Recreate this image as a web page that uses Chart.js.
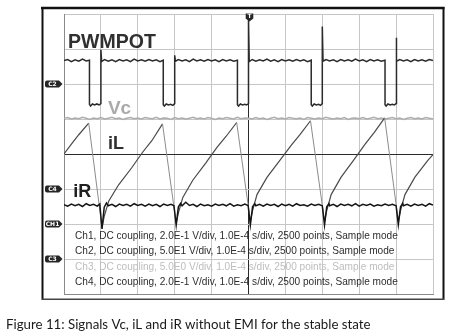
<!DOCTYPE html>
<html>
<head>
<meta charset="utf-8">
<script src="https://cdn.jsdelivr.net/npm/chart.js@4.4.1/dist/chart.umd.min.js"></script>
<style>
html,body{margin:0;padding:0;background:#fff;overflow:hidden;}
canvas{display:block;}
</style>
</head>
<body>
<canvas id="c" width="449" height="335"></canvas>
<script>
// Time axis: 10 divisions, vertical: 8 divisions (values in divisions)
const xTicks = [0,1,2,3,4,5,6,7,8,9,10];
const yTicks = [0,1,2,3,4,5,6,7,8];

const traceNames = ["PWMPOT", "Vc", "iL", "iR"];

const pwmPoints = [
[0,6.67],[0.1,6.70],[0.2,6.64],[0.3,6.69],[0.4,6.65],[0.5,6.71],[0.6,6.66],[0.69,6.68],
[0.69,5.42],[0.72,5.37],[0.77,5.43],[0.83,5.40],[0.89,5.43],[0.95,5.40],[1.0,5.44],
[1.0,6.98],[1.02,6.64],[1.1,6.70],[1.2,6.65],[1.3,6.69],[1.4,6.64],[1.5,6.70],[1.6,6.66],[1.7,6.69],[1.8,6.64],[1.9,6.71],[2.0,6.66],[2.1,6.69],[2.2,6.65],[2.3,6.70],[2.4,6.66],[2.5,6.69],[2.6,6.64],[2.69,6.68],
[2.69,5.41],[2.72,5.37],[2.77,5.43],[2.83,5.40],[2.89,5.42],[2.95,5.39],[3.0,5.44],
[3.0,6.82],[3.02,6.65],[3.1,6.70],[3.2,6.66],[3.3,6.69],[3.4,6.64],[3.5,6.71],[3.6,6.66],[3.7,6.69],[3.8,6.65],[3.9,6.70],[4.0,6.66],[4.1,6.69],[4.2,6.64],[4.3,6.70],[4.4,6.66],[4.5,6.69],[4.6,6.65],[4.7,6.68],
[4.7,5.41],[4.73,5.37],[4.78,5.43],[4.84,5.40],[4.9,5.42],[4.95,5.40],[5.0,5.44],
[5.0,7.86],[5.02,6.64],[5.1,6.70],[5.2,6.65],[5.3,6.69],[5.4,6.66],[5.5,6.71],[5.6,6.65],[5.7,6.69],[5.8,6.64],[5.9,6.70],[6.0,6.66],[6.1,6.69],[6.2,6.65],[6.3,6.70],[6.4,6.66],[6.5,6.69],[6.6,6.64],[6.7,6.68],
[6.7,5.41],[6.73,5.37],[6.78,5.43],[6.84,5.40],[6.9,5.42],[6.95,5.39],[7.0,5.44],
[7.0,7.64],[7.02,6.65],[7.1,6.70],[7.2,6.66],[7.3,6.69],[7.4,6.64],[7.5,6.70],[7.6,6.66],[7.7,6.69],[7.8,6.65],[7.9,6.71],[8.0,6.66],[8.1,6.69],[8.2,6.64],[8.3,6.70],[8.4,6.66],[8.5,6.69],[8.6,6.65],[8.7,6.68],
[8.7,5.41],[8.73,5.37],[8.78,5.43],[8.84,5.40],[8.9,5.42],[8.95,5.40],[9.0,5.44],
[9.0,7.32],[9.02,6.65],[9.1,6.70],[9.2,6.66],[9.3,6.69],[9.4,6.64],[9.5,6.70],[9.6,6.66],[9.7,6.69],[9.8,6.65],[9.9,6.70],[10,6.67]
];

const vcPoints = [
[0,5.02],[0.1,5.04],[0.2,5.00],[0.3,5.03],[0.4,5.01],[0.5,5.05],[0.6,5.02],[0.7,4.99],[0.8,5.03],[0.9,5.01],
[1.0,5.04],[1.1,5.00],[1.2,5.02],[1.3,5.05],[1.4,5.01],[1.5,5.03],[1.6,4.99],[1.7,5.02],[1.8,5.04],[1.9,5.01],
[2.0,5.03],[2.1,5.00],[2.2,5.04],[2.3,5.02],[2.4,5.01],[2.5,5.05],[2.6,5.00],[2.7,5.03],[2.8,5.02],[2.9,4.99],
[3.0,5.04],[3.1,5.01],[3.2,5.03],[3.3,5.00],[3.4,5.02],[3.5,5.05],[3.6,5.01],[3.7,5.03],[3.8,5.00],[3.9,5.04],
[4.0,5.02],[4.1,4.99],[4.2,5.03],[4.3,5.01],[4.4,5.04],[4.5,5.02],[4.6,5.00],[4.7,5.05],[4.8,5.01],[4.9,5.03],
[5.0,5.02],[5.1,5.00],[5.2,5.04],[5.3,5.01],[5.4,5.03],[5.5,4.99],[5.6,5.02],[5.7,5.05],[5.8,5.01],[5.9,5.03],
[6.0,5.00],[6.1,5.04],[6.2,5.02],[6.3,5.01],[6.4,5.03],[6.5,4.99],[6.6,5.04],[6.7,5.02],[6.8,5.00],[6.9,5.03],
[7.0,5.01],[7.1,5.05],[7.2,5.02],[7.3,5.00],[7.4,5.03],[7.5,5.01],[7.6,5.04],[7.7,4.99],[7.8,5.02],[7.9,5.03],
[8.0,5.01],[8.1,5.04],[8.2,5.00],[8.3,5.02],[8.4,5.05],[8.5,5.01],[8.6,5.03],[8.7,5.00],[8.8,5.02],[8.9,5.04],
[9.0,5.01],[9.1,5.03],[9.2,4.99],[9.3,5.02],[9.4,5.04],[9.5,5.01],[9.6,5.03],[9.7,5.00],[9.8,5.04],[9.9,5.02],[10,5.01]
];

const iLPoints = [
[0,4.00],[0.2,4.28],[0.4,4.55],[0.67,4.88],
[1.03,1.90],[1.09,2.22],[1.21,2.65],[1.48,3.12],[1.83,3.60],[2.13,4.05],[2.38,4.38],[2.67,4.86],
[3.04,2.02],[3.10,2.32],[3.22,2.76],[3.49,3.25],[3.84,3.74],[4.14,4.18],[4.39,4.50],[4.68,4.90],
[5.05,2.08],[5.11,2.38],[5.23,2.84],[5.50,3.33],[5.85,3.82],[6.15,4.24],[6.40,4.56],[6.68,4.95],
[7.06,2.08],[7.12,2.38],[7.24,2.84],[7.51,3.34],[7.86,3.84],[8.16,4.28],[8.41,4.62],[8.69,5.03],
[9.06,2.08],[9.12,2.38],[9.24,2.84],[9.51,3.34],[9.86,3.82],[10,3.98]
];

const iRPoints = [
[0,2.55],[0.1,2.51],[0.2,2.57],[0.3,2.52],[0.4,2.56],[0.5,2.50],[0.6,2.58],[0.7,2.53],[0.8,2.56],[0.9,2.51],[0.97,2.57],
[1.03,1.86],[1.09,2.48],[1.15,2.60],[1.2,2.52],[1.3,2.56],[1.4,2.50],[1.5,2.57],[1.6,2.53],[1.7,2.56],[1.8,2.51],[1.9,2.58],[2.0,2.53],[2.1,2.56],[2.2,2.51],[2.3,2.57],[2.4,2.52],[2.5,2.56],[2.6,2.50],[2.7,2.57],[2.8,2.53],[2.9,2.56],[2.98,2.52],
[3.04,1.97],[3.10,2.49],[3.16,2.59],[3.2,2.52],[3.3,2.62],[3.4,2.53],[3.5,2.56],[3.6,2.50],[3.7,2.57],[3.8,2.52],[3.9,2.55],[4.0,2.51],[4.1,2.57],[4.2,2.53],[4.3,2.56],[4.4,2.52],[4.5,2.58],[4.6,2.51],[4.7,2.55],[4.8,2.52],[4.9,2.57],[4.99,2.53],
[5.05,1.97],[5.11,2.49],[5.17,2.58],[5.2,2.52],[5.3,2.56],[5.4,2.51],[5.5,2.57],[5.6,2.53],[5.7,2.56],[5.8,2.50],[5.9,2.57],[6.0,2.52],[6.1,2.56],[6.2,2.51],[6.3,2.58],[6.4,2.53],[6.5,2.55],[6.6,2.51],[6.7,2.57],[6.8,2.53],[6.9,2.56],[7.0,2.52],
[7.06,1.97],[7.12,2.49],[7.18,2.58],[7.2,2.52],[7.3,2.56],[7.4,2.50],[7.5,2.57],[7.6,2.53],[7.7,2.56],[7.8,2.52],[7.9,2.58],[8.0,2.51],[8.1,2.56],[8.2,2.53],[8.3,2.57],[8.4,2.51],[8.5,2.55],[8.6,2.52],[8.7,2.57],[8.8,2.53],[8.9,2.56],[9.0,2.52],
[9.06,1.98],[9.12,2.49],[9.18,2.59],[9.2,2.52],[9.3,2.56],[9.4,2.51],[9.5,2.57],[9.6,2.53],[9.7,2.56],[9.8,2.51],[9.9,2.58],[10,2.54]
];

// channel ground markers (label, level in divisions)
const markerLabels = ["C2", "C4", "CH1", "C3"];
const markerLevels = [6, 3, 2, 1];
const triggerLabel = "T";
const triggerTime = 5;

const infoLines = [
  "Ch1, DC coupling, 2.0E-1 V/div, 1.0E-4 s/div, 2500 points, Sample mode",
  "Ch2, DC coupling, 5.0E1 V/div, 1.0E-4 s/div, 2500 points, Sample mode",
  "Ch3, DC coupling, 5.0E0 V/div, 1.0E-4 s/div, 2500 points, Sample mode",
  "Ch4, DC coupling, 2.0E-1 V/div, 1.0E-4 s/div, 2500 points, Sample mode"
];
const caption = "Figure 11: Signals Vc, iL and iR without EMI for the stable state";

const decor = {
  id: 'decor',
  beforeDraw(chart) {
    const c = chart.ctx;
    c.save();
    c.fillStyle = '#fff';
    c.fillRect(0, 0, chart.width, chart.height);
    c.restore();
  },
  afterDatasetsDraw(chart) {
    const c = chart.ctx;
    const xs = chart.scales.x, ys = chart.scales.y;
    c.save();
    c.textBaseline = 'alphabetic';
    c.textAlign = 'left';
    c.fillStyle = '#303030';
    c.font = 'bold 19.5px "Liberation Sans", Arial, sans-serif';
    c.fillText(traceNames[0], xs.getPixelForValue(0.11), ys.getPixelForValue(7.02));
    c.font = 'bold 19px "Liberation Sans", Arial, sans-serif';
    c.fillStyle = '#aaaaaa';
    c.fillText(traceNames[1], xs.getPixelForValue(1.19), ys.getPixelForValue(5.15));
    c.font = 'bold 18px "Liberation Sans", Arial, sans-serif';
    c.fillStyle = '#303030';
    c.fillText(traceNames[2], xs.getPixelForValue(1.19), ys.getPixelForValue(4.13));
    c.fillStyle = '#202020';
    c.fillText(traceNames[3], xs.getPixelForValue(0.25), ys.getPixelForValue(2.76));

    c.font = '10.1px "Liberation Sans", Arial, sans-serif';
    c.textBaseline = 'middle';
    const rowY = [236, 251.7, 267, 282.5];
    infoLines.forEach((t, i) => {
      c.fillStyle = i === 2 ? '#bdbdbd' : '#2e2e2e';
      c.fillText(t, 75, rowY[i]);
    });
    c.restore();
  },
  afterDraw(chart) {
    const c = chart.ctx;
    const xs = chart.scales.x, ys = chart.scales.y;
    c.save();
    c.strokeStyle = '#111';
    c.lineWidth = 2.5;
    c.beginPath(); c.moveTo(41, 8); c.lineTo(444.5, 8); c.stroke();
    c.lineWidth = 2;
    c.beginPath(); c.moveTo(42.5, 7); c.lineTo(42.5, 300); c.stroke();
    c.beginPath(); c.moveTo(443.5, 7); c.lineTo(443.5, 300); c.stroke();
    c.strokeStyle = '#444';
    c.lineWidth = 1.5;
    c.beginPath(); c.moveTo(42, 299.2); c.lineTo(444, 299.2); c.stroke();

    markerLabels.forEach((lab, i) => {
      const py = Math.round(ys.getPixelForValue(markerLevels[i]));
      c.fillStyle = '#262626';
      c.beginPath();
      c.moveTo(47, py - 3.5);
      c.lineTo(59, py - 3.5);
      c.lineTo(62.5, py);
      c.lineTo(59, py + 3.5);
      c.lineTo(47, py + 3.5);
      c.quadraticCurveTo(45, py + 3.5, 45, py + 1.5);
      c.lineTo(45, py - 1.5);
      c.quadraticCurveTo(45, py - 3.5, 47, py - 3.5);
      c.fill();
      c.fillStyle = '#fff';
      c.font = 'bold 6px "DejaVu Sans", sans-serif';
      c.textAlign = 'center';
      c.textBaseline = 'middle';
      c.fillText(lab, 52.5, py + 0.3);
    });

    const tx = Math.round(xs.getPixelForValue(triggerTime)) + 0.5;
    c.fillStyle = '#262626';
    c.beginPath();
    c.moveTo(tx - 3.8, 13.5);
    c.lineTo(tx + 3.8, 13.5);
    c.lineTo(tx + 3.8, 18.5);
    c.lineTo(tx, 21.5);
    c.lineTo(tx - 3.8, 18.5);
    c.closePath();
    c.fill();
    c.fillStyle = '#fff';
    c.font = 'bold 6px "DejaVu Sans", sans-serif';
    c.textAlign = 'center';
    c.textBaseline = 'middle';
    c.fillText(triggerLabel, tx, 16.8);

    c.textAlign = 'left';
    c.textBaseline = 'alphabetic';
    c.fillStyle = '#1a1a1a';
    let fs = 13;
    c.font = fs + 'px Lato, "Noto Sans", sans-serif';
    const w = c.measureText(caption).width;
    fs = fs * 365 / w;
    c.font = fs.toFixed(2) + 'px Lato, "Noto Sans", sans-serif';
    c.fillText(caption, 6, 328.5);
    c.restore();
  }
};

const gridColor = (ctx) => (ctx.tick && ctx.tick.value === 5) ? '#2a2a2a' : '#c6c6c6';
const gridColorY = (ctx) => (ctx.tick && ctx.tick.value === 4) ? '#2a2a2a' : '#c6c6c6';

new Chart(document.getElementById('c'), {
  type: 'line',
  data: {
    datasets: [
      { label: traceNames[0], data: pwmPoints, borderColor: '#2b2b2b', borderWidth: 1.5, order: 1 },
      { label: traceNames[1], data: vcPoints, borderColor: '#adadad', borderWidth: 1.5, order: 4 },
      { label: traceNames[2], data: iLPoints, borderColor: '#4a4a4a', borderWidth: 1.2, order: 3,
        segment: { borderColor: (s) => s.p1.parsed.y < s.p0.parsed.y ? '#8c8c8c' : '#4a4a4a',
                   borderWidth: (s) => s.p1.parsed.y < s.p0.parsed.y ? 1 : 1.2 } },
      { label: traceNames[3], data: iRPoints, borderColor: '#151515', borderWidth: 1.5, order: 2 }
    ]
  },
  options: {
    responsive: false,
    animation: false,
    devicePixelRatio: 1,
    layout: { padding: { left: 64, top: 14, right: 16, bottom: 41 } },
    elements: { point: { radius: 0 }, line: { tension: 0 } },
    plugins: { legend: { display: false }, tooltip: { enabled: false } },
    scales: {
      x: {
        type: 'linear', min: xTicks[0], max: xTicks[xTicks.length - 1],
        afterBuildTicks: (s) => { s.ticks = xTicks.map(v => ({ value: v })); },
        ticks: { display: false },
        grid: { color: gridColor, lineWidth: 1, drawTicks: false },
        border: { display: true, color: '#8a8a8a', width: 1 }
      },
      y: {
        type: 'linear', min: yTicks[0], max: yTicks[yTicks.length - 1],
        afterBuildTicks: (s) => { s.ticks = yTicks.map(v => ({ value: v })); },
        ticks: { display: false },
        grid: { color: gridColorY, lineWidth: 1, drawTicks: false },
        border: { display: true, color: '#8a8a8a', width: 1 }
      }
    }
  },
  plugins: [decor]
});
</script>
</body>
</html>
